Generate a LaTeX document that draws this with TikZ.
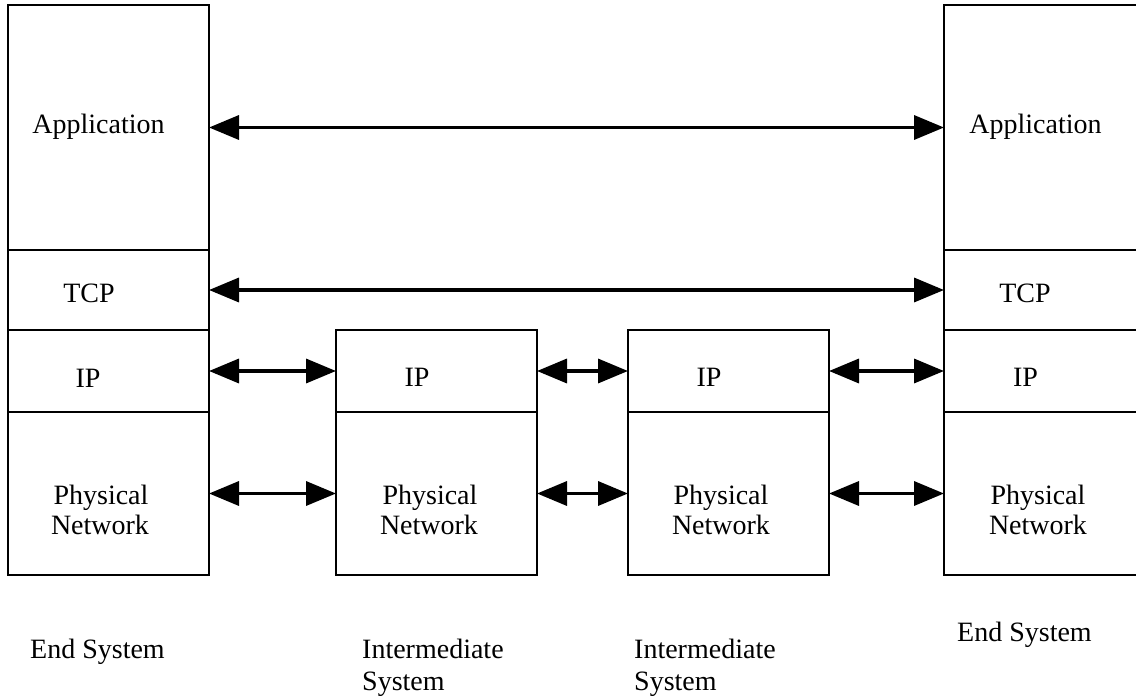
\documentclass[tikz,border=0pt]{standalone}
\usepackage{fontspec}
\setmainfont{Liberation Serif}
\usetikzlibrary{arrows.meta}
\tikzset{
  cell/.style={draw=black, line width=2pt, fill=none, anchor=north west,
               inner sep=0pt, outer sep=0pt, minimum width=201pt},
  lbl/.style={anchor=base, inner sep=0pt, font=\fontsize{28}{32}\selectfont},
  syscaption/.style={anchor=base west, inner sep=0pt, font=\fontsize{28}{32}\selectfont},
  link/.style={line width=3.5pt, {Triangle[length=30pt,width=24pt]}-{Triangle[length=30pt,width=24pt]}}
}
\begin{document}
\begin{tikzpicture}[x=1pt,y=-1pt]
\useasboundingbox (0,0) rectangle (1136,696);

% left end system stack
\node[cell, minimum height=245pt] (lapp) at (8,5) {};
\node[cell, minimum height=80pt]  (ltcp) at (8,250) {};
\node[cell, minimum height=82pt]  (lip)  at (8,330) {};
\node[cell, minimum height=163pt] (lphy) at (8,412) {};

% first intermediate system
\node[cell, minimum height=82pt]  (aip)  at (336,330) {};
\node[cell, minimum height=163pt] (aphy) at (336,412) {};

% second intermediate system
\node[cell, minimum height=82pt]  (bip)  at (628,330) {};
\node[cell, minimum height=163pt] (bphy) at (628,412) {};

% right end system stack (runs past the right edge)
\node[cell, minimum height=245pt] (rapp) at (944,5) {};
\node[cell, minimum height=80pt]  (rtcp) at (944,250) {};
\node[cell, minimum height=82pt]  (rip)  at (944,330) {};
\node[cell, minimum height=163pt] (rphy) at (944,412) {};

% layer names
\node[lbl] (tlapp) at (98.5,133) {Application};
\node[lbl] (trapp) at (1035.5,133) {Application};
\node[lbl] (tltcp) at (89,302) {TCP};
\node[lbl] (trtcp) at (1025,302) {TCP};
\node[lbl] (tlip) at (88,387) {IP};
\node[lbl] (taip) at (417,386) {IP};
\node[lbl] (tbip) at (709,386) {IP};
\node[lbl] (trip) at (1025.5,386) {IP};
\node[lbl] (tlphy1) at (101,504) {Physical};
\node[lbl] (tlphy2) at (100,534) {Network};
\node[lbl] (taphy1) at (430,504) {Physical};
\node[lbl] (taphy2) at (429,534) {Network};
\node[lbl] (tbphy1) at (721,504) {Physical};
\node[lbl] (tbphy2) at (721,534) {Network};
\node[lbl] (trphy1) at (1038,504) {Physical};
\node[lbl] (trphy2) at (1038,534) {Network};

% system captions
\node[syscaption] (cl) at (30,658) {End System};
\node[syscaption] (ca1) at (362,658) {Intermediate};
\node[syscaption] (ca2) at (362,690) {System};
\node[syscaption] (cb1) at (634,658) {Intermediate};
\node[syscaption] (cb2) at (634,690) {System};
\node[syscaption] (cr) at (957,641) {End System};

% peer links
\draw[link] (lapp.east) -- (rapp.west);
\draw[link] (ltcp.east) -- (rtcp.west);
\draw[link] (lip.east) -- (aip.west);
\draw[link] (aip.east) -- (bip.west);
\draw[link] (bip.east) -- (rip.west);
\draw[link] (lphy.east) -- (aphy.west);
\draw[link] (aphy.east) -- (bphy.west);
\draw[link] (bphy.east) -- (rphy.west);
\end{tikzpicture}
\end{document}
